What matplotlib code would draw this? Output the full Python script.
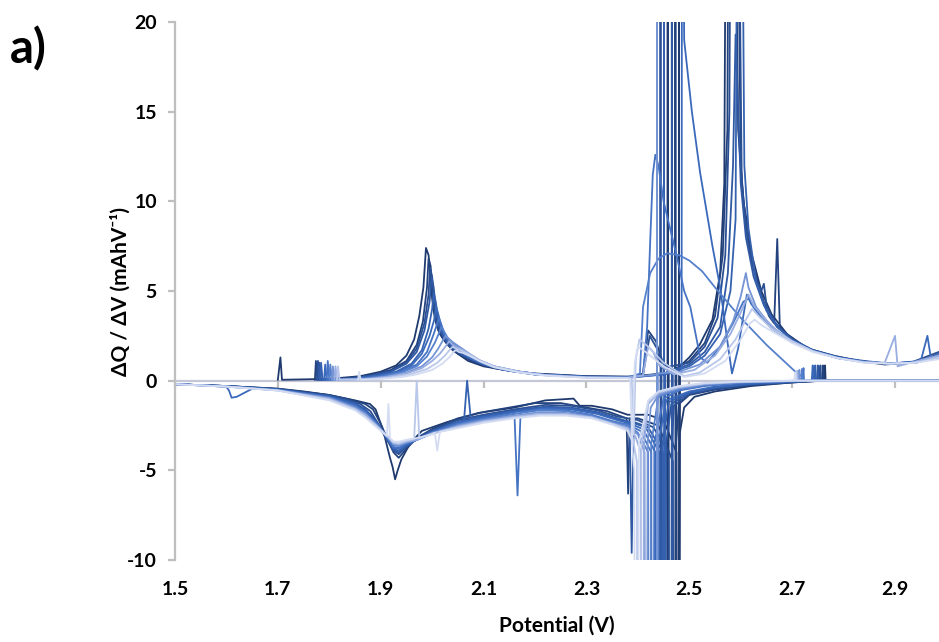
import matplotlib
matplotlib.use("Agg")
import matplotlib.pyplot as plt
import numpy as np

# ---------------- data: dQ/dV per cycle (voltage V, dQ/dV mAh/V) ----------------
charge0 = [(1.700,0.05),(1.705,1.3),(1.708,0.05),(1.80,0.1),(1.86,0.25),(1.90,0.5),(1.93,0.85),(1.95,1.4),(1.965,2.3),(1.975,3.6),(1.983,5.2),(1.988,7.4),(1.993,7.0),(1.996,6.2),(2.0,4.6),(2.005,3.5),(2.012,2.8),(2.022,2.3),(2.04,1.7),(2.07,1.1),(2.10,0.8),(2.15,0.55),(2.20,0.4),(2.30,0.25),(2.38,0.22),(2.43,0.35),(2.458,0.45),(2.458,40),(2.458,-40),(2.460,0.5),(2.480,0.5),(2.480,40),(2.480,-40),(2.482,0.8),(2.50,1.3),(2.52,2.0),(2.545,3.4),(2.56,6),(2.568,11),(2.573,40),(2.585,40),(2.595,14),(2.605,10),(2.612,8.9),(2.62,7.2),(2.64,5),(2.66,3.7),(2.69,2.6),(2.73,1.8),(2.78,1.4),(2.83,1.1),(2.88,0.9),(2.93,1.0),(2.985,1.3)]
discharge0 = [(2.99,0.0),(2.80,0.0),(2.765,0.0),(2.764,0.85),(2.762,0.0),(2.70,-0.1),(2.62,-0.3),(2.55,-0.6),(2.51,-0.9),(2.49,-1.5),(2.481,-3),(2.4785,-40),(2.4775,-40),(2.475,-4),(2.45,-2.2),(2.42,-1.9),(2.38,-1.9),(2.35,-1.6),(2.31,-1.4),(2.287,-1.4),(2.275,-1.0),(2.22,-1.1),(2.16,-1.5),(2.09,-1.8),(2.03,-2.3),(2.0,-2.6),(1.98,-2.8),(1.957,-3.5),(1.94,-4.4),(1.933,-5.0),(1.928,-5.5),(1.923,-4.8),(1.918,-4.3),(1.905,-2.8),(1.89,-1.6),(1.879,-1.3),(1.85,-1.1),(1.80,-0.8),(1.75,-0.6),(1.70,-0.45),(1.60,-0.3),(1.50,-0.2)]

charge1 = [(1.772,0.05),(1.774,1.1),(1.777,0.05),(1.83,0.12),(1.88,0.3),(1.92,0.6),(1.95,1.1),(1.97,2.0),(1.982,3.3),(1.99,5.2),(1.993,6.8),(1.997,6.4),(2.001,4.5),(2.007,3.3),(2.015,2.6),(2.03,2.0),(2.05,1.5),(2.08,1.05),(2.12,0.7),(2.2,0.38),(2.3,0.24),(2.39,0.22),(2.41,0.4),(2.42,2.8),(2.435,2.2),(2.45,0.9),(2.473,0.6),(2.473,40),(2.473,-40),(2.475,0.7),(2.50,1.1),(2.53,2.1),(2.55,3.6),(2.565,7),(2.574,14),(2.578,40),(2.59,40),(2.60,12),(2.61,8.5),(2.625,6.3),(2.64,4.8),(2.655,3.6),(2.665,3.2),(2.671,7.9),(2.676,3.0),(2.70,2.3),(2.74,1.7),(2.79,1.3),(2.84,1.05),(2.89,0.95),(2.94,1.05),(2.985,1.4)]
discharge1 = [(2.99,0),(2.80,0),(2.761,0),(2.760,0.85),(2.758,0),(2.70,-0.1),(2.62,-0.25),(2.55,-0.5),(2.50,-0.8),(2.48,-1.3),(2.474,-3.5),(2.4715,-40),(2.4705,-40),(2.468,-4.5),(2.44,-2.5),(2.40,-2.1),(2.384,-2.1),(2.381,-6.3),(2.378,-2.1),(2.34,-1.7),(2.30,-1.5),(2.25,-1.25),(2.20,-1.25),(2.15,-1.5),(2.10,-1.75),(2.05,-2.1),(2.0,-2.7),(1.97,-3.2),(1.95,-3.8),(1.935,-4.3),(1.925,-4.0),(1.915,-3.4),(1.90,-2.4),(1.885,-1.6),(1.87,-1.3),(1.84,-1.05),(1.80,-0.8),(1.70,-0.45),(1.60,-0.3),(1.50,-0.2)]

charge2 = [(1.776,0.05),(1.778,1.1),(1.781,0.05),(1.84,0.12),(1.88,0.28),(1.92,0.55),(1.95,1.0),(1.97,1.8),(1.985,3.2),(1.993,4.8),(1.996,6.3),(2.0,5.8),(2.004,4.2),(2.01,3.1),(2.02,2.5),(2.035,1.9),(2.06,1.4),(2.09,1.0),(2.13,0.65),(2.2,0.36),(2.3,0.23),(2.39,0.2),(2.41,0.35),(2.423,2.5),(2.437,1.8),(2.444,0.8),(2.444,40),(2.444,-40),(2.446,0.7),(2.50,1.0),(2.53,1.9),(2.555,3.5),(2.57,7),(2.578,15),(2.582,40),(2.592,40),(2.602,11),(2.615,7.5),(2.63,5.6),(2.64,5.0),(2.645,5.4),(2.65,4.2),(2.665,3.3),(2.69,2.5),(2.73,1.8),(2.78,1.35),(2.83,1.1),(2.88,0.95),(2.93,1.0),(2.985,1.6)]
discharge2 = [(2.99,0),(2.80,0),(2.756,0),(2.755,0.85),(2.753,0),(2.70,-0.08),(2.62,-0.22),(2.55,-0.45),(2.50,-0.75),(2.47,-1.4),(2.466,-3.5),(2.4635,-40),(2.4625,-40),(2.460,-4.0),(2.43,-2.6),(2.40,-2.2),(2.36,-2.0),(2.32,-1.65),(2.27,-1.4),(2.22,-1.35),(2.16,-1.6),(2.10,-1.9),(2.05,-2.2),(2.0,-2.75),(1.97,-3.2),(1.95,-3.7),(1.935,-4.1),(1.925,-3.9),(1.91,-3.2),(1.895,-2.4),(1.88,-1.7),(1.86,-1.3),(1.83,-1.0),(1.80,-0.82),(1.70,-0.47),(1.60,-0.3),(1.50,-0.2)]

charge3 = [(1.779,0.05),(1.781,1.0),(1.784,0.05),(1.84,0.12),(1.88,0.27),(1.92,0.5),(1.95,0.95),(1.97,1.6),(1.985,2.8),(1.995,4.4),(1.999,5.8),(2.003,5.2),(2.008,3.8),(2.015,2.9),(2.025,2.3),(2.04,1.8),(2.065,1.35),(2.10,0.9),(2.14,0.6),(2.2,0.35),(2.3,0.22),(2.39,0.2),(2.45,0.4),(2.466,0.55),(2.466,40),(2.466,-40),(2.468,0.6),(2.50,0.9),(2.53,1.6),(2.56,3.0),(2.575,6),(2.585,12),(2.590,19.3),(2.594,16),(2.60,11),(2.61,8.0),(2.625,5.8),(2.645,4.2),(2.67,3.0),(2.70,2.3),(2.74,1.7),(2.79,1.3),(2.84,1.1),(2.89,0.95),(2.94,1.0),(2.985,1.5)]
discharge3 = [(2.99,0),(2.80,0),(2.751,0),(2.750,0.85),(2.748,0),(2.70,-0.07),(2.62,-0.2),(2.55,-0.4),(2.50,-0.7),(2.465,-1.3),(2.455,-3.5),(2.4525,-40),(2.4515,-40),(2.449,-4),(2.42,-2.6),(2.392,-2.3),(2.388,-9.6),(2.384,-2.3),(2.36,-2.1),(2.32,-1.75),(2.27,-1.5),(2.22,-1.45),(2.16,-1.65),(2.10,-1.95),(2.05,-2.3),(2.0,-2.8),(1.97,-3.25),(1.95,-3.65),(1.935,-4.0),(1.925,-3.85),(1.91,-3.1),(1.89,-2.2),(1.87,-1.6),(1.85,-1.25),(1.80,-0.85),(1.70,-0.48),(1.60,-0.3),(1.50,-0.2)]

charge4 = [(1.782,0.05),(1.784,1.0),(1.787,0.05),(1.85,0.12),(1.89,0.27),(1.93,0.5),(1.96,0.95),(1.98,1.7),(1.993,2.9),(2.0,4.0),(2.003,4.9),(2.007,4.4),(2.012,3.4),(2.02,2.7),(2.03,2.2),(2.045,1.75),(2.07,1.3),(2.10,0.9),(2.15,0.55),(2.2,0.35),(2.3,0.21),(2.39,0.2),(2.451,0.35),(2.451,40),(2.451,-40),(2.453,0.4),(2.50,0.8),(2.53,1.4),(2.56,2.6),(2.58,5),(2.59,9),(2.595,40),(2.60,40),(2.607,12),(2.615,8.5),(2.63,5.5),(2.65,3.9),(2.675,2.9),(2.70,2.3),(2.74,1.7),(2.79,1.3),(2.84,1.05),(2.89,0.95),(2.94,1.05),(2.985,1.4)]
discharge4 = [(2.99,0),(2.80,0),(2.746,0),(2.745,0.85),(2.743,0),(2.70,-0.06),(2.62,-0.18),(2.55,-0.38),(2.50,-0.65),(2.46,-1.2),(2.448,-3.5),(2.4455,-40),(2.4445,-40),(2.442,-4),(2.415,-2.6),(2.39,-2.35),(2.36,-2.15),(2.32,-1.8),(2.27,-1.55),(2.22,-1.5),(2.16,-1.7),(2.10,-2.0),(2.075,-2.1),(2.068,0.0),(2.062,-2.2),(2.03,-2.5),(2.0,-2.85),(1.97,-3.3),(1.95,-3.6),(1.935,-3.9),(1.925,-3.8),(1.91,-3.1),(1.89,-2.3),(1.87,-1.7),(1.85,-1.3),(1.80,-0.88),(1.70,-0.5),(1.60,-0.3),(1.50,-0.2)]

charge5 = [(1.790,0.05),(1.792,0.9),(1.795,0.05),(1.85,0.1),(1.89,0.25),(1.93,0.45),(1.96,0.85),(1.98,1.5),(1.995,2.5),(2.004,3.4),(2.008,4.1),(2.012,3.7),(2.018,3.0),(2.025,2.5),(2.035,2.1),(2.05,1.7),(2.075,1.25),(2.10,0.9),(2.15,0.55),(2.2,0.34),(2.3,0.2),(2.39,0.18),(2.45,0.35),(2.485,0.5),(2.486,40),(2.49,19),(2.505,15),(2.521,11.6),(2.545,7.5),(2.56,5.2),(2.575,2.0),(2.583,0.4),(2.595,1.8),(2.605,3.6),(2.612,4.8),(2.62,4.3),(2.64,3.5),(2.665,2.8),(2.70,2.2),(2.74,1.65),(2.79,1.3),(2.84,1.05),(2.89,0.95),(2.95,1.1),(2.963,2.5),(2.97,1.2),(2.985,1.5)]
discharge5 = [(2.99,0),(2.80,0),(2.741,0),(2.740,0.85),(2.738,0),(2.70,-0.05),(2.62,-0.15),(2.55,-0.33),(2.50,-0.6),(2.455,-1.1),(2.440,-3.5),(2.4375,-40),(2.4365,-40),(2.434,-4),(2.41,-2.7),(2.385,-2.4),(2.36,-2.2),(2.32,-1.85),(2.27,-1.6),(2.22,-1.55),(2.16,-1.75),(2.10,-2.05),(2.05,-2.35),(2.0,-2.85),(1.97,-3.3),(1.95,-3.55),(1.935,-3.8),(1.925,-3.75),(1.91,-3.1),(1.89,-2.3),(1.87,-1.7),(1.85,-1.35),(1.80,-0.9),(1.70,-0.5),(1.65,-0.45),(1.62,-0.9),(1.61,-0.95),(1.605,-0.55),(1.60,-0.35),(1.55,-0.25),(1.50,-0.2)]

charge6 = [(1.795,0.05),(1.797,1.1),(1.800,0.05),(1.86,0.1),(1.90,0.25),(1.94,0.5),(1.97,0.9),(1.99,1.6),(2.003,2.6),(2.01,3.2),(2.013,3.5),(2.017,3.2),(2.023,2.7),(2.03,2.3),(2.045,1.9),(2.06,1.6),(2.08,1.2),(2.11,0.85),(2.16,0.52),(2.22,0.32),(2.3,0.2),(2.38,0.17),(2.41,0.3),(2.418,3),(2.424,7.8),(2.429,11.5),(2.434,12.6),(2.44,12.0),(2.45,10),(2.465,8.2),(2.476,6.9),(2.49,5.0),(2.502,4.1),(2.515,2.2),(2.521,1.3),(2.535,1.0),(2.56,1.9),(2.585,3.2),(2.605,4.4),(2.617,4.6),(2.63,3.9),(2.66,2.9),(2.70,2.2),(2.74,1.65),(2.79,1.25),(2.84,1.05),(2.89,0.95),(2.94,1.0),(2.985,1.3)]
discharge6 = [(2.99,0),(2.80,0),(2.723,0),(2.722,0.7),(2.720,0),(2.68,-0.05),(2.60,-0.12),(2.53,-0.3),(2.48,-0.55),(2.45,-1.0),(2.432,-3.5),(2.4295,-40),(2.4285,-40),(2.426,-4),(2.405,-2.8),(2.38,-2.45),(2.35,-2.25),(2.31,-1.9),(2.26,-1.65),(2.21,-1.6),(2.172,-1.75),(2.166,-6.4),(2.16,-1.85),(2.10,-2.1),(2.05,-2.4),(2.0,-2.9),(1.97,-3.3),(1.95,-3.5),(1.935,-3.75),(1.925,-3.7),(1.91,-3.1),(1.89,-2.35),(1.87,-1.75),(1.85,-1.4),(1.80,-0.92),(1.70,-0.52),(1.60,-0.32),(1.50,-0.2)]

charge7 = [(1.800,0.05),(1.802,0.9),(1.805,0.05),(1.86,0.1),(1.90,0.22),(1.94,0.45),(1.97,0.8),(1.99,1.35),(2.005,2.1),(2.014,2.7),(2.018,3.0),(2.022,2.8),(2.03,2.4),(2.04,2.1),(2.055,1.8),(2.07,1.5),(2.09,1.15),(2.12,0.8),(2.17,0.5),(2.22,0.32),(2.3,0.2),(2.38,0.17),(2.404,0.4),(2.41,4.1),(2.424,6.0),(2.44,6.8),(2.457,7.1),(2.48,7.0),(2.50,6.7),(2.525,6.1),(2.55,5.2),(2.60,3.5),(2.65,2.0),(2.71,0.4),(2.72,0.25)]
discharge7 = [(2.72,0),(2.719,0.65),(2.717,0),(2.68,-0.04),(2.60,-0.1),(2.53,-0.25),(2.48,-0.5),(2.44,-0.9),(2.426,-3.5),(2.4235,-40),(2.4225,-40),(2.420,-4),(2.40,-2.9),(2.38,-2.5),(2.35,-2.3),(2.31,-1.95),(2.26,-1.7),(2.21,-1.65),(2.16,-1.85),(2.10,-2.15),(2.05,-2.45),(2.0,-2.9),(1.97,-3.3),(1.95,-3.45),(1.935,-3.65),(1.925,-3.6),(1.91,-3.05),(1.89,-2.4),(1.87,-1.8),(1.85,-1.45),(1.80,-0.95),(1.70,-0.52),(1.60,-0.32),(1.50,-0.2)]

charge8 = [(1.805,0.05),(1.807,0.8),(1.810,0.05),(1.87,0.1),(1.91,0.22),(1.95,0.45),(1.98,0.8),(2.0,1.3),(2.012,1.8),(2.022,2.3),(2.026,2.5),(2.03,2.4),(2.04,2.15),(2.055,1.85),(2.07,1.55),(2.09,1.15),(2.12,0.8),(2.17,0.5),(2.22,0.32),(2.3,0.19),(2.38,0.17),(2.437,0.35),(2.437,40),(2.437,-40),(2.439,0.4),(2.48,0.5),(2.52,0.9),(2.56,1.9),(2.585,3.3),(2.60,4.7),(2.61,6.0),(2.615,5.2),(2.63,4.1),(2.66,3.0),(2.70,2.2),(2.74,1.65),(2.79,1.25),(2.84,1.05),(2.89,0.95),(2.94,1.0),(2.985,1.35)]
discharge8 = [(2.99,0),(2.80,0),(2.715,0),(2.714,0.6),(2.712,0),(2.68,-0.03),(2.60,-0.08),(2.53,-0.2),(2.48,-0.42),(2.44,-0.8),(2.425,-1.5),(2.419,-3.5),(2.4165,-40),(2.4155,-40),(2.413,-4),(2.40,-3.0),(2.38,-2.6),(2.35,-2.35),(2.31,-2.0),(2.26,-1.8),(2.21,-1.75),(2.16,-1.95),(2.10,-2.2),(2.05,-2.5),(2.0,-2.95),(1.97,-3.3),(1.95,-3.45),(1.935,-3.6),(1.925,-3.55),(1.91,-3.0),(1.89,-2.4),(1.87,-1.85),(1.85,-1.5),(1.80,-0.97),(1.70,-0.53),(1.60,-0.33),(1.50,-0.2)]

charge9 = [(1.810,0.05),(1.812,0.8),(1.815,0.05),(1.87,0.08),(1.91,0.2),(1.95,0.4),(1.98,0.7),(2.0,1.1),(2.015,1.5),(2.027,1.95),(2.033,2.2),(2.038,2.05),(2.045,1.9),(2.06,1.7),(2.075,1.45),(2.095,1.1),(2.12,0.8),(2.17,0.5),(2.22,0.3),(2.3,0.18),(2.38,0.16),(2.41,0.3),(2.42,1.9),(2.43,1.6),(2.44,0.9),(2.47,0.35),(2.51,0.6),(2.55,1.4),(2.58,2.6),(2.60,3.8),(2.615,4.8),(2.625,4.2),(2.645,3.5),(2.67,2.8),(2.70,2.2),(2.74,1.65),(2.79,1.25),(2.84,1.02),(2.88,1.0),(2.90,2.5),(2.905,0.8),(2.93,1.0),(2.985,1.4)]
discharge9 = [(2.99,0),(2.80,0),(2.711,0),(2.710,0.55),(2.708,0),(2.68,-0.03),(2.60,-0.07),(2.53,-0.18),(2.48,-0.38),(2.44,-0.7),(2.42,-1.3),(2.412,-3.5),(2.4095,-40),(2.4085,-40),(2.406,-4),(2.395,-3.1),(2.38,-2.65),(2.35,-2.4),(2.31,-2.05),(2.26,-1.85),(2.21,-1.85),(2.16,-2.0),(2.10,-2.25),(2.05,-2.55),(2.0,-2.95),(1.97,-3.3),(1.95,-3.4),(1.935,-3.55),(1.925,-3.5),(1.91,-3.0),(1.89,-2.45),(1.87,-1.9),(1.85,-1.55),(1.80,-1.0),(1.70,-0.54),(1.60,-0.33),(1.50,-0.2)]

charge10 = [(1.815,0.05),(1.817,0.8),(1.820,0.05),(1.88,0.08),(1.92,0.18),(1.96,0.38),(1.99,0.65),(2.01,1.0),(2.025,1.4),(2.035,1.75),(2.040,1.9),(2.045,1.8),(2.055,1.7),(2.07,1.5),(2.09,1.15),(2.12,0.8),(2.17,0.48),(2.22,0.3),(2.3,0.17),(2.38,0.15),(2.388,0.1),(2.392,-3.0),(2.396,1.2),(2.403,2.3),(2.42,1.9),(2.45,1.0),(2.49,0.25),(2.52,0.45),(2.56,1.2),(2.59,2.3),(2.61,3.4),(2.622,4.0),(2.635,3.6),(2.66,2.9),(2.70,2.2),(2.74,1.65),(2.79,1.25),(2.84,1.02),(2.89,0.95),(2.94,1.0),(2.985,1.3)]
discharge10 = [(2.99,0),(2.80,0),(2.709,0),(2.708,0.5),(2.706,0),(2.68,-0.02),(2.60,-0.06),(2.53,-0.15),(2.48,-0.35),(2.44,-0.65),(2.42,-1.2),(2.407,-3.5),(2.4035,-40),(2.4015,-40),(2.398,-4.5),(2.39,-3.2),(2.38,-2.7),(2.35,-2.4),(2.31,-2.05),(2.26,-1.9),(2.21,-1.9),(2.16,-2.05),(2.10,-2.3),(2.05,-2.6),(2.0,-2.95),(1.975,-3.2),(1.97,0.0),(1.965,-3.25),(1.95,-3.35),(1.935,-3.5),(1.925,-3.45),(1.91,-3.0),(1.89,-2.5),(1.87,-2.0),(1.85,-1.6),(1.80,-1.05),(1.70,-0.55),(1.60,-0.33),(1.50,-0.2)]

charge11 = [(1.856,0.05),(1.858,0.5),(1.861,0.05),(1.90,0.1),(1.94,0.2),(1.97,0.35),(2.0,0.6),(2.02,0.95),(2.035,1.35),(2.043,1.65),(2.047,1.7),(2.052,1.6),(2.06,1.55),(2.075,1.35),(2.095,1.05),(2.12,0.75),(2.17,0.45),(2.22,0.28),(2.3,0.16),(2.38,0.14),(2.385,0.1),(2.389,-3.5),(2.394,1.0),(2.40,1.9),(2.415,1.6),(2.45,0.8),(2.49,0.2),(2.53,0.4),(2.57,1.1),(2.60,2.3),(2.618,3.2),(2.627,3.4),(2.64,3.1),(2.67,2.6),(2.70,2.1),(2.74,1.6),(2.79,1.25),(2.84,1.0),(2.89,0.95),(2.94,1.0),(2.985,1.2)]
discharge11 = [(2.99,0),(2.80,0),(2.707,0),(2.706,0.45),(2.704,0),(2.68,-0.02),(2.60,-0.05),(2.53,-0.13),(2.48,-0.3),(2.44,-0.6),(2.42,-1.1),(2.402,-3.5),(2.398,-40),(2.396,-40),(2.393,-5),(2.388,-3.3),(2.38,-2.8),(2.35,-2.45),(2.31,-2.1),(2.26,-1.95),(2.21,-1.95),(2.16,-2.1),(2.10,-2.35),(2.05,-2.65),(2.015,-2.85),(2.01,-3.9),(2.005,-2.9),(2.0,-3.0),(1.97,-3.2),(1.95,-3.3),(1.935,-3.4),(1.925,-3.4),(1.918,-3.2),(1.915,-1.3),(1.912,-3.1),(1.89,-2.55),(1.87,-2.05),(1.85,-1.65),(1.80,-1.1),(1.70,-0.55),(1.60,-0.33),(1.50,-0.2)]

charges = [charge0, charge1, charge2, charge3, charge4, charge5,
           charge6, charge7, charge8, charge9, charge10, charge11]
discharges = [discharge0, discharge1, discharge2, discharge3, discharge4, discharge5,
              discharge6, discharge7, discharge8, discharge9, discharge10, discharge11]

x_ticks = [1.5, 1.7, 1.9, 2.1, 2.3, 2.5, 2.7, 2.9]
y_ticks = [-10, -5, 0, 5, 10, 15, 20]

# ---------------- style ----------------
colors = ['#1f3a6e', '#23437f', '#2a4f93', '#3059a3', '#3562b0', '#3a69bb',
          '#4673c4', '#5580cc', '#7594d4', '#98ade0', '#b8c7ea', '#d3dcf2']

plt.rcParams['font.family'] = ['Lato', 'DejaVu Sans']
plt.rcParams['axes.unicode_minus'] = False
W, H = 939, 642
fig = plt.figure(figsize=(W / 100, H / 100), dpi=100)
ax_left, ax_right, ax_top, ax_bottom = 175, 939, 22, 560
ax = fig.add_axes([ax_left / W, 1 - ax_bottom / H,
                   (ax_right - ax_left) / W, (ax_bottom - ax_top) / H])

for i in range(len(charges)):
    for branch in (charges[i], discharges[i]):
        arr = np.array(branch)
        ax.plot(arr[:, 0], arr[:, 1], color=colors[i], lw=1.3, zorder=2 + i * 0.01,
                solid_joinstyle='round')

ax.set_xlim(1.5, 1.5 + (ax_right - ax_left) / 514.3)
ax.set_ylim(-10, 20)

for s in ('top', 'right'):
    ax.spines[s].set_visible(False)
ax.spines['left'].set_color('#bfbfbf')
ax.spines['left'].set_linewidth(1.6)
ax.spines['bottom'].set_position(('data', 0))
ax.spines['bottom'].set_color('#c4c7d6')
ax.spines['bottom'].set_linewidth(1.6)
ax.spines['bottom'].set_zorder(1)

ax.set_xticks(x_ticks)
ax.tick_params(axis='x', direction='out', length=5, width=1.6, color='#bfbfbf',
               labelbottom=False)
ax.set_yticks(y_ticks)
ax.tick_params(axis='y', direction='out', length=5, width=1.6, color='#bfbfbf',
               pad=8, labelsize=14)
for lab in ax.get_yticklabels():
    lab.set_fontweight('bold')

secax = ax.secondary_xaxis(0.0)
secax.spines['bottom'].set_visible(False)
secax.set_xticks(x_ticks)
secax.set_xticklabels([f'{t:.1f}' for t in x_ticks], fontsize=14, fontweight='bold')
secax.tick_params(axis='x', length=0, pad=15)

ax.set_xlabel('Potential (V)', fontsize=15, fontweight='bold')
ax.xaxis.set_label_coords(0.5, -(616 - ax_bottom) / (ax_bottom - ax_top))
ax.set_ylabel('ΔQ / ΔV (mAhV⁻¹)', fontsize=15, fontweight='bold')
ax.yaxis.set_label_coords(-(ax_left - 131) / (ax_right - ax_left), 0.5)

fig.text(10 / W, 1 - 49 / H, 'a)', fontsize=34, fontweight='bold', ha='left', va='center')

fig.savefig('out.png', dpi=100)
